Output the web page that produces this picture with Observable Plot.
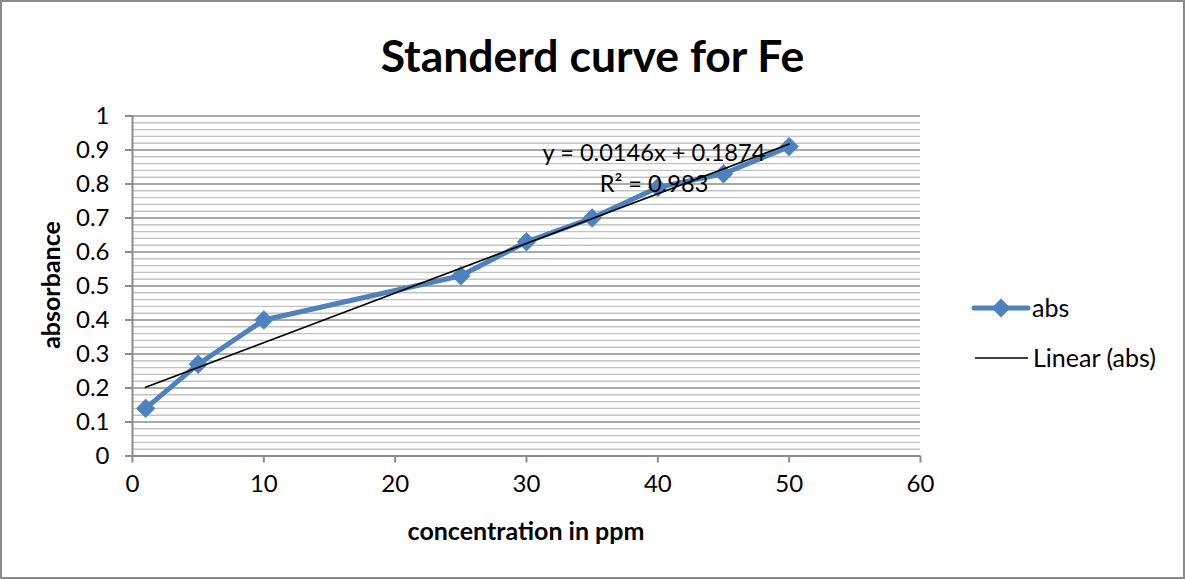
<!DOCTYPE html>
<html>
<head>
<meta charset="utf-8">
<script src="https://cdn.jsdelivr.net/npm/d3@7"></script>
<script src="https://cdn.jsdelivr.net/npm/@observablehq/plot@0.6"></script>
<style>
  body { margin: 0; background: #fff; }
  #chart { position: relative; width: 1185px; height: 579px; font-family: Lato, "Open Sans", sans-serif; color: #000; overflow: hidden; }
  #frame { position: absolute; left: 0; top: 0; width: 1181px; height: 575px; border: 2px solid #8a8a8a; }
  #plot { position: absolute; left: 0; top: 0; }
  .abs { position: absolute; white-space: nowrap; line-height: 1; }
  #title { left: 0; width: 1185px; text-align: center; top: 33px; font-size: 44.5px; font-weight: bold; }
  #xlabel { left: 132px; width: 788px; text-align: center; top: 518px; font-size: 25px; font-weight: bold; }
  #ylabel { left: 50px; top: 285px; font-size: 25px; font-weight: bold; transform: translate(-50%, -50%) rotate(-90deg); }
  #eq { left: 654px; top: 137px; font-size: 23.6px; transform: translateX(-50%); text-align: center; line-height: 31px; }
  #legend { position: absolute; left: 960px; top: 290px; }
</style>
</head>
<body>
<div id="chart">
  <div id="frame"></div>
  <div id="plot"></div>
  <div id="title" class="abs">Standerd curve for Fe</div>
  <div id="xlabel" class="abs">concentration in ppm</div>
  <div id="ylabel" class="abs">absorbance</div>
  <div id="eq" class="abs">y = 0.0146x + 0.1874<br>R² = 0.983</div>
  <svg id="legend" width="220" height="90"></svg>
</div>
<script>
// ---- data ----
const conc = [1, 5, 10, 25, 30, 35, 40, 45, 50];
const absorbance = [0.14, 0.27, 0.40, 0.53, 0.63, 0.70, 0.79, 0.83, 0.91];
const xTicks = [0, 10, 20, 30, 40, 50, 60];
const yTicks = [0, 0.1, 0.2, 0.3, 0.4, 0.5, 0.6, 0.7, 0.8, 0.9, 1];
const yMinorTicks = [0.02,0.04,0.06,0.08,0.12,0.14,0.16,0.18,0.22,0.24,0.26,0.28,0.32,0.34,0.36,0.38,0.42,0.44,0.46,0.48,0.52,0.54,0.56,0.58,0.62,0.64,0.66,0.68,0.72,0.74,0.76,0.78,0.82,0.84,0.86,0.88,0.92,0.94,0.96,0.98];
// Excel trendline: y = 0.0146x + 0.1874, drawn over the data's x extent
const trendSlope = 0.0146;
const trendIntercept = 0.1874;
const trendRange = [1, 50];

const BLUE = "#4f81bd";
const GRID_MAJOR = "#8c8c8c";
const GRID_MINOR = "#c3c3c3";
const FONT = 'Lato, "Open Sans", sans-serif';

const data = conc.map((c, i) => ({x: c, y: absorbance[i]}));
const trend = trendRange.map(x => ({x, y: trendSlope * x + trendIntercept}));

const chart = Plot.plot({
  width: 1185,
  height: 579,
  marginLeft: 132,
  marginRight: 265,
  marginTop: 115.5,
  marginBottom: 123.5,
  x: {domain: [0, 60]},
  y: {domain: [0, 1]},
  style: {fontFamily: FONT, fontSize: "24px", color: "#000", background: "transparent", overflow: "visible"},
  marks: [
    Plot.ruleY(yMinorTicks, {stroke: GRID_MINOR, strokeWidth: 1.4}),
    Plot.ruleY(yTicks, {stroke: GRID_MAJOR, strokeWidth: 1.6}),
    Plot.ruleX([0], {stroke: GRID_MAJOR, strokeWidth: 2}),
    Plot.ruleY([0], {stroke: GRID_MAJOR, strokeWidth: 2}),
    Plot.axisY({ticks: yTicks, tickSize: 7, tickPadding: 16, stroke: GRID_MAJOR, strokeWidth: 2, fontSize: 24, label: null, tickFormat: d => String(+d.toFixed(1))}),
    Plot.axisX({ticks: xTicks, tickSize: 7, tickPadding: 12, stroke: GRID_MAJOR, strokeWidth: 2, fontSize: 24, label: null, tickFormat: d => String(d)}),
    Plot.line(data, {x: "x", y: "y", stroke: BLUE, strokeWidth: 5, strokeLinejoin: "round", strokeLinecap: "round"}),
    Plot.dot(data, {x: "x", y: "y", symbol: "diamond2", r: 8.5, fill: BLUE, stroke: BLUE, strokeWidth: 0.5}),
    Plot.line(trend, {x: "x", y: "y", stroke: "#000", strokeWidth: 1.6})
  ]
});
document.getElementById("plot").appendChild(chart);

// legend
const lg = d3.select("#legend");
lg.append("line").attr("x1", 14).attr("x2", 68).attr("y1", 18).attr("y2", 18)
  .attr("stroke", BLUE).attr("stroke-width", 5).attr("stroke-linecap", "round");
lg.append("path").attr("d", d3.symbol(d3.symbolDiamond2, Math.PI * 8.5 * 8.5)()).attr("transform", "translate(41,18)").attr("fill", BLUE);
lg.append("text").attr("x", 72).attr("y", 18).attr("dy", "0.35em").attr("font-size", 25).attr("font-family", FONT).text("abs");
lg.append("line").attr("x1", 15).attr("x2", 68).attr("y1", 68).attr("y2", 68)
  .attr("stroke", "#000").attr("stroke-width", 1.6);
lg.append("text").attr("x", 73).attr("y", 68).attr("dy", "0.35em").attr("font-size", 25).attr("font-family", FONT).text("Linear (abs)");
</script>
</body>
</html>
